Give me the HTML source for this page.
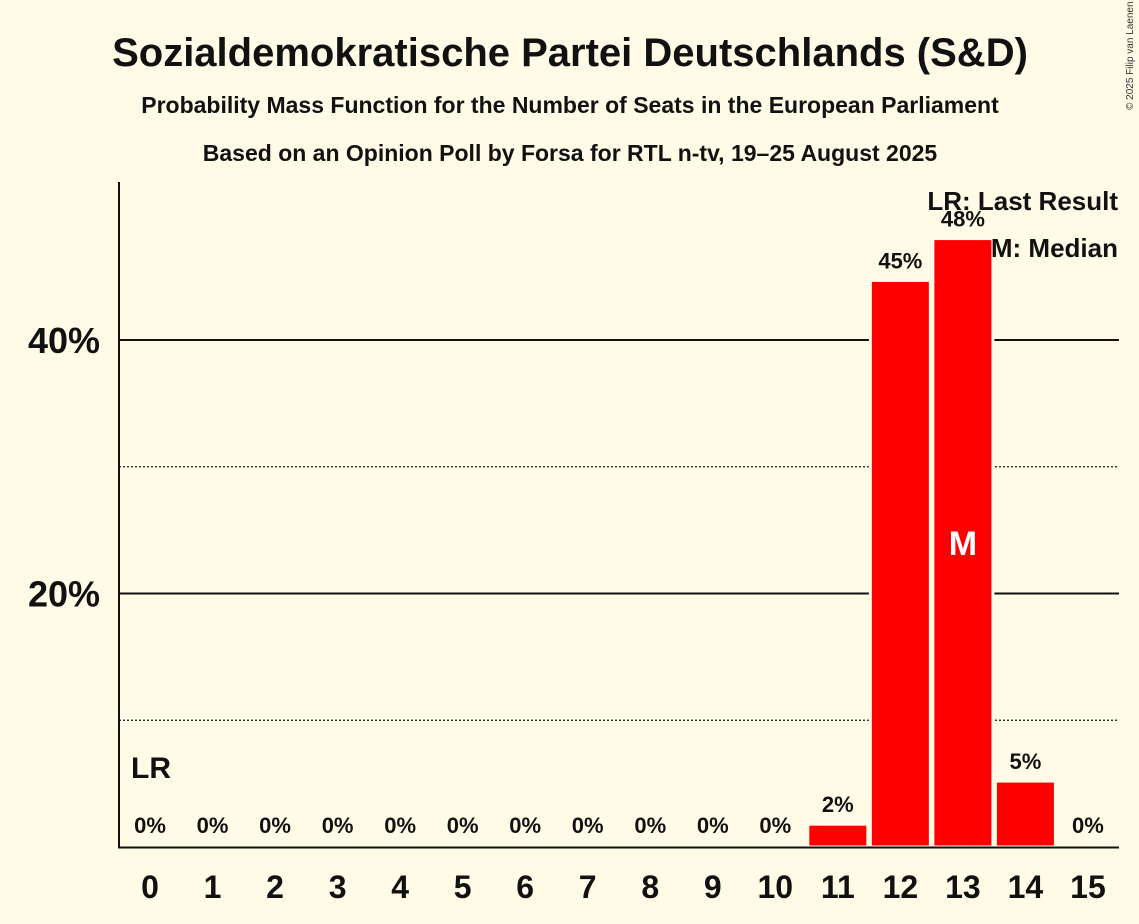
<!DOCTYPE html>
<html><head><meta charset="utf-8"><style>
body{margin:0;background:#fffbe6;}
svg{display:block;font-family:"Liberation Sans",sans-serif;}
</style></head><body>
<svg id="chart" width="1139" height="924" viewBox="0 0 1139 924">
<rect width="1139" height="924" fill="#fffbe6"/>
<text x="570" y="66" text-anchor="middle" font-size="40" font-weight="bold" fill="#111">Sozialdemokratische Partei Deutschlands (S&amp;D)</text>
<text x="570" y="113" text-anchor="middle" font-size="23" font-weight="bold" fill="#111">Probability Mass Function for the Number of Seats in the European Parliament</text>
<text x="570" y="161" text-anchor="middle" font-size="23" font-weight="bold" fill="#111">Based on an Opinion Poll by Forsa for RTL n-tv, 19–25 August 2025</text>
<text x="1133" y="110" font-size="10" fill="#333" transform="rotate(-90 1133 110)">© 2025 Filip van Laenen</text>
<g id="grid"></g>
<g id="bars"></g>
<g id="labels"></g>
<line x1="119" y1="182" x2="119" y2="848" stroke="#111" stroke-width="2"/>
<line x1="118" y1="847.5" x2="1119" y2="847.5" stroke="#111" stroke-width="2"/>
<text x="131" y="778" font-size="30" font-weight="bold" fill="#111">LR</text>
<text x="1118" y="210" text-anchor="end" font-size="26" font-weight="bold" fill="#111">LR: Last Result</text>
<text x="1118" y="257" text-anchor="end" font-size="26" font-weight="bold" fill="#111">M: Median</text>
</svg>
<script>
const categories=[0,1,2,3,4,5,6,7,8,9,10,11,12,13,14,15];
const values=[0,0,0,0,0,0,0,0,0,0,0,1.8,44.7,48.0,5.2,0];
const valueLabels=["0%","0%","0%","0%","0%","0%","0%","0%","0%","0%","0%","2%","45%","48%","5%","0%"];
const yTicks=[20,40];
const yTickLabels=["20%","40%"];
const yMinor=[10,30];
const medianSeat=13;
const NS="http://www.w3.org/2000/svg";
const y=v=>847-v*12.675;
const x=c=>150+c*62.53;
function mk(tag,attrs,parent,text){const e=document.createElementNS(NS,tag);for(const k in attrs)e.setAttribute(k,attrs[k]);if(text!==undefined)e.textContent=text;parent.appendChild(e);return e;}
const grid=document.getElementById('grid'),bars=document.getElementById('bars'),labels=document.getElementById('labels');
yMinor.forEach(v=>{const l=mk('line',{x1:119,x2:1119,y1:y(v),y2:y(v),stroke:'#111','stroke-width':1.2,'stroke-dasharray':'2,2'},grid);

});
yTicks.forEach((v,i)=>{const l=mk('line',{x1:119,x2:1119,y1:y(v),y2:y(v),stroke:'#111','stroke-width':2},grid);


const t=mk('text',{x:100,y:y(v)+13,'text-anchor':'end','font-size':36,'font-weight':'bold',fill:'#111'},grid,yTickLabels[i]);

});
categories.forEach((c,i)=>{
if(values[i]>0){const r=mk('rect',{x:x(c)-30,y:y(values[i]),width:60,height:847-y(values[i]),fill:'#ff0000',stroke:'#fffbe6','stroke-width':3},bars);

}
const lb=mk('text',{x:x(c),y:(values[i]>0?y(values[i])-12:833),'text-anchor':'middle','font-size':22,'font-weight':'bold',fill:'#111'},labels,valueLabels[i]);


const tk=mk('text',{x:x(c),y:898,'text-anchor':'middle','font-size':32,'font-weight':'bold',fill:'#111'},labels,String(c));


if(c===medianSeat){const m=mk('text',{x:x(c),y:y(values[i]/2)+12,'text-anchor':'middle','font-size':34,'font-weight':'bold',fill:'#fff'},labels,'M');

}
});
</script>
</body></html>
